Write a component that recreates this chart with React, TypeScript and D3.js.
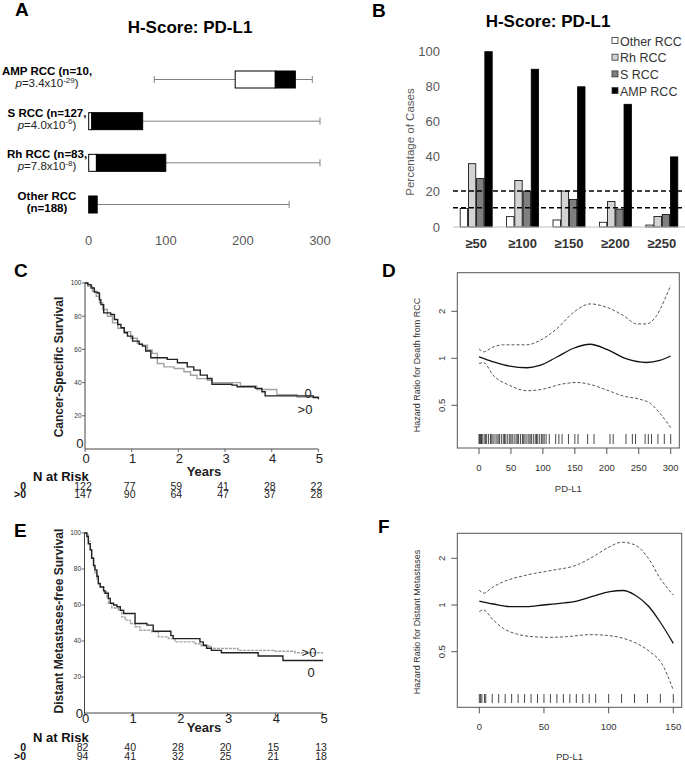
import React from "react";
import * as d3 from "d3";

const FONT = "'Liberation Sans', Arial, Helvetica, sans-serif";

// ---------- Panel A: box plots ----------
const aGroups = ["AMP RCC", "S RCC", "Rh RCC", "Other RCC"];
const aN = [10, 127, 83, 188];
const aPMant = ["3.4", "4.0", "7.8", ""];
const aPExp = ["-29", "-6", "-8", ""];
const aMin = [85, 0, 0, 0];
const aQ1 = [190, 0, 0, 0];
const aMedian = [242, 4, 10, 0];
const aQ3 = [268, 70, 100, 11];
const aMax = [290, 300, 300, 260];
const aTicks = [0, 100, 200, 300];

// ---------- Panel B: grouped bars ----------
const bCategories = ["≥50", "≥100", "≥150", "≥200", "≥250"];
const bSeries = ["Other RCC", "Rh RCC", "S RCC", "AMP RCC"];
const bOther = [10.6, 5.9, 4.0, 2.7, 1.1];
const bRh = [36.1, 26.5, 20.5, 14.5, 6.0];
const bS = [27.6, 20.5, 15.7, 10.2, 7.1];
const bAmp = [100, 90, 80, 70, 40];
const bTicks = [0, 20, 40, 60, 80, 100];
const bRefLines = [20.5, 11];
const bColors = ["#ffffff", "#d4d4d4", "#7f7f7f", "#000000"];

// ---------- Panel C: Kaplan-Meier cancer-specific survival ----------
const cTime0 = [0, 0.06, 0.13, 0.2, 0.27, 0.31, 0.34, 0.4, 0.55, 0.63, 0.7, 0.77, 0.84, 0.91, 1.02, 1.16, 1.23, 1.3, 1.41, 1.76, 1.98, 2.19, 2.33, 2.47, 2.62, 2.72, 3.15, 3.26, 3.65, 3.79, 3.86, 4.89, 5.0];
const cSurv0 = [100, 99, 97, 94.5, 94, 90, 87, 82, 81, 78, 75, 73, 70, 68, 65, 63, 62, 59, 55, 54, 52, 49.5, 47.5, 44.5, 42.5, 39, 38.5, 37.5, 36.5, 34.5, 32, 31, 30];
const cTime1 = [0, 0.06, 0.16, 0.24, 0.31, 0.38, 0.48, 0.59, 0.7, 0.84, 0.98, 1.12, 1.23, 1.34, 1.44, 1.55, 1.69, 1.91, 2.12, 2.26, 2.4, 2.62, 2.72, 3.33, 3.68, 4.11, 4.54, 5.0];
const cSurv1 = [100, 98, 95, 92, 88, 84, 80, 76, 72.7, 70.7, 66.7, 63.6, 62.6, 59.6, 57.6, 51.5, 49.5, 48.5, 46.5, 44.4, 42.4, 41.4, 40, 38, 35.8, 32.7, 31.3, 31.3];
const cRisk0 = [122, 77, 59, 41, 28, 22];
const cRisk1 = [147, 90, 64, 47, 37, 28];

// ---------- Panel E: Kaplan-Meier distant metastases-free survival ----------
const eTime0 = [0, 0.05, 0.08, 0.12, 0.15, 0.19, 0.22, 0.26, 0.29, 0.33, 0.4, 0.43, 0.5, 0.54, 0.61, 0.68, 0.75, 0.82, 1.06, 1.31, 1.44, 1.81, 1.86, 2.42, 2.49, 2.56, 2.66, 2.87, 3.64, 4.16, 5.0];
const eSurv0 = [100, 98, 94, 90.7, 86, 82, 79.5, 76, 72, 70, 68, 66.5, 63.7, 61, 60, 59, 57, 55.3, 49.7, 48.8, 45.4, 43, 41.3, 39.5, 37.6, 36, 34.8, 33.5, 31.7, 29.2, 29.2];
const eTime1 = [0, 0.05, 0.08, 0.12, 0.15, 0.19, 0.22, 0.26, 0.29, 0.33, 0.4, 0.47, 0.5, 0.57, 0.64, 0.71, 0.78, 0.85, 0.96, 1.06, 1.16, 1.41, 1.55, 1.76, 1.9, 2.32, 2.45, 2.66, 3.22, 3.99, 4.41, 5.0];
const eSurv1 = [100, 99, 95.3, 90.7, 86, 81.4, 77.7, 73.9, 71.5, 70.2, 67.4, 64.6, 60.9, 58.5, 58.1, 57.2, 53.4, 51.6, 49.7, 47.9, 46, 45.1, 42.3, 41.3, 39.5, 38.5, 37.2, 35.8, 34.8, 34.3, 33.5, 33.5];
const eRisk0 = [82, 40, 28, 20, 15, 13];
const eRisk1 = [94, 41, 32, 25, 21, 18];
const kmYTicks = [20, 40, 60, 80, 100];
const kmXTicks = [0, 1, 2, 3, 4, 5];

// ---------- Panel D: spline hazard ratio, death from RCC ----------
const dX = [0, 22, 48, 75, 95, 122, 148, 174, 200, 231, 262, 283, 300];
const dHR = [1.02, 0.95, 0.89, 0.87, 0.9, 1.02, 1.16, 1.23, 1.14, 0.99, 0.94, 0.97, 1.035];
const dUpX = [0, 7, 22, 38, 75, 95, 122, 148, 174, 200, 226, 247, 262, 278, 291, 300];
const dUp = [1.15, 1.1, 1.18, 1.22, 1.22, 1.3, 1.55, 1.97, 2.23, 2.12, 1.88, 1.66, 1.66, 1.88, 2.4, 2.94];
const dLoX = [0, 7, 22, 48, 75, 101, 127, 153, 174, 200, 226, 252, 268, 283, 300];
const dLo = [0.925, 0.94, 0.78, 0.67, 0.62, 0.635, 0.68, 0.7, 0.68, 0.626, 0.573, 0.546, 0.515, 0.445, 0.36];
const dRug = [0, 1, 2, 3, 4, 5, 8, 10, 12, 15, 18, 20, 22, 25, 28, 30, 32, 35, 38, 40, 42, 45, 48, 50, 52, 55, 58, 60, 62, 65, 68, 70, 72, 75, 78, 80, 82, 85, 88, 90, 92, 95, 98, 100, 102, 105, 110, 120, 125, 130, 140, 150, 155, 170, 180, 205, 210, 230, 240, 245, 260, 265, 270, 280, 290, 300];
const dXTicks = [0, 50, 100, 150, 200, 250, 300];

// ---------- Panel F: spline hazard ratio, distant metastases ----------
const fX = [0, 10.8, 23.7, 36.6, 49.5, 62.4, 75.3, 88.1, 101, 111.3, 120.3, 130.7, 139.7, 150];
const fHR = [1.06, 1.015, 0.976, 0.976, 1.0, 1.025, 1.06, 1.14, 1.22, 1.24, 1.16, 0.985, 0.78, 0.566];
const fUpX = [0, 3, 10.8, 18.5, 36.6, 54.6, 75.3, 88.1, 101, 110, 120.3, 130.7, 139.7, 150];
const fUp = [1.25, 1.19, 1.31, 1.41, 1.56, 1.665, 1.81, 2.05, 2.38, 2.54, 2.44, 2.0, 1.49, 1.16];
const fLoX = [0, 3, 10.8, 18.5, 28.9, 41.7, 54.6, 67.5, 85.6, 98.4, 111.3, 121.6, 131.9, 141, 150];
const fLo = [0.906, 0.93, 0.8, 0.707, 0.65, 0.625, 0.619, 0.625, 0.644, 0.637, 0.61, 0.566, 0.5, 0.42, 0.283];
const fRug = [0, 1, 2, 4, 5, 10, 15, 20, 25, 30, 35, 40, 45, 50, 55, 60, 65, 70, 75, 80, 85, 90, 100, 110, 120, 130, 140, 150];
const fXTicks = [0, 50, 100, 150];
const hrYTicks = [0.5, 1, 2];

function PanelA() {
  const x = d3.scaleLinear().domain([0, 300]).range([88.7, 320]);
  const y = d3.scalePoint().domain(aGroups).range([79.5, 204.5]);
  const h = 17;
  return (
    <g>
      <text x={15} y={16} fontSize={19} fontWeight="bold">A</text>
      <text x={190} y={33} fontSize={17} fontWeight="bold" textAnchor="middle">H-Score: PD-L1</text>
      {aGroups.map((g, i) => {
        const cy = y(g)!;
        const isOther = aPMant[i] === "";
        return (
          <g key={g}>
            {aMin[i] < aQ1[i] && (
              <>
                <line x1={x(aMin[i])} x2={x(aQ1[i])} y1={cy} y2={cy} stroke="#808080" strokeWidth={1} />
                <line x1={x(aMin[i])} x2={x(aMin[i])} y1={cy - 3.5} y2={cy + 3.5} stroke="#808080" strokeWidth={1} />
              </>
            )}
            <line x1={x(aQ3[i])} x2={x(aMax[i])} y1={cy} y2={cy} stroke="#808080" strokeWidth={1} />
            <line x1={x(aMax[i])} x2={x(aMax[i])} y1={cy - 3.5} y2={cy + 3.5} stroke="#808080" strokeWidth={1} />
            {aMedian[i] > aQ1[i] && (
              <rect x={x(aQ1[i])} y={cy - h / 2} width={x(aMedian[i]) - x(aQ1[i])} height={h} fill="#fff" stroke="#000" strokeWidth={1} />
            )}
            <rect x={x(aMedian[i])} y={cy - h / 2} width={x(aQ3[i]) - x(aMedian[i])} height={h} fill="#000" stroke="#000" strokeWidth={1} />
            <text x={47} y={cy - 4.5} fontSize={11.5} fontWeight="bold" textAnchor="middle">
              {isOther ? g : `${g} (n=${aN[i]},`}
            </text>
            {isOther ? (
              <text x={47} y={cy + 7.5} fontSize={11.5} fontWeight="bold" textAnchor="middle">{`(n=${aN[i]})`}</text>
            ) : (
              <text x={47} y={cy + 7.5} fontSize={11.5} textAnchor="middle" fill="#222">
                <tspan fontStyle="italic">p</tspan>
                <tspan>{`=${aPMant[i]}x10`}</tspan>
                <tspan fontSize={8} dy={-4.5}>{aPExp[i]}</tspan>
                <tspan dy={4.5}>)</tspan>
              </text>
            )}
          </g>
        );
      })}
      {aTicks.map((t) => (
        <text key={t} x={x(t)} y={245} fontSize={13} fill="#595959" textAnchor="middle">{t}</text>
      ))}
    </g>
  );
}

function PanelB() {
  const x0 = d3.scaleBand().domain(bCategories).range([453, 685]).paddingInner(0.31).paddingOuter(0.155);
  const x1 = d3.scaleBand().domain(bSeries).range([0, x0.bandwidth()]).paddingInner(0.1);
  const y = d3.scaleLinear().domain([0, 100]).range([227, 51.7]);
  const series = [bOther, bRh, bS, bAmp];
  return (
    <g>
      <text x={372} y={17} fontSize={19} fontWeight="bold">B</text>
      <text x={548} y={27} fontSize={17} fontWeight="bold" textAnchor="middle">H-Score: PD-L1</text>
      {bTicks.map((t) => (
        <text key={t} x={440} y={y(t) + 4.5} fontSize={13} fill="#595959" textAnchor="end">{t}</text>
      ))}
      <text transform="translate(414,142) rotate(-90)" fontSize={11.5} fill="#595959" textAnchor="middle">Percentage of Cases</text>
      {bCategories.map((c, ci) => (
        <g key={c}>
          {bSeries.map((s, si) => (
            <rect key={s} x={x0(c)! + x1(s)!} y={y(series[si][ci])} width={x1.bandwidth()} height={y(0) - y(series[si][ci])}
              fill={bColors[si]} stroke="#000" strokeWidth={0.8} />
          ))}
          <text x={x0(c)! + x0.bandwidth() / 2} y={248} fontSize={13} fontWeight="bold" fill="#333" textAnchor="middle">{c}</text>
        </g>
      ))}
      <line x1={453} x2={685} y1={y(0)} y2={y(0)} stroke="#bfbfbf" strokeWidth={1} />
      {bRefLines.map((v) => (
        <line key={v} x1={453} x2={685} y1={y(v)} y2={y(v)} stroke="#000" strokeWidth={1.6} strokeDasharray="5,3" />
      ))}
      {bSeries.map((s, si) => {
        const cy = 41 + si * 16.7;
        return (
          <g key={s}>
            <rect x={612} y={cy - 3.5} width={6} height={6} fill={bColors[si]} stroke="#333" strokeWidth={0.8} />
            <text x={620} y={cy + 4.5} fontSize={12.5} fill="#333">{s}</text>
          </g>
        );
      })}
    </g>
  );
}

type KMProps = {
  letter: string; letterY: number; x0: number; x1: number; yTop: number; yBot: number;
  yLabel: string; yLabelY: number; zeroLabelY: number; xLabelY: number; yearsY: number; nRiskY: number;
  row0Y: number; row1Y: number; t0: number[]; s0: number[]; t1: number[]; s1: number[];
  r0: number[]; r1: number[]; lab0: [number, number]; lab1: [number, number]; grayDash?: string;
};

function KMPanel(p: KMProps) {
  const x = d3.scaleLinear().domain([0, 5]).range([p.x0, p.x1]);
  const y = d3.scaleLinear().domain([0, 100]).range([p.yBot, p.yTop]);
  const line = d3.line<[number, number]>().x((d) => x(d[0])).y((d) => y(d[1])).curve(d3.curveStepAfter);
  const pts0 = p.t0.map((t, i) => [t, p.s0[i]] as [number, number]);
  const pts1 = p.t1.map((t, i) => [t, p.s1[i]] as [number, number]);
  return (
    <g>
      <text x={14} y={p.letterY} fontSize={19} fontWeight="bold">{p.letter}</text>
      <line x1={p.x0} x2={p.x0} y1={y(100) - 1} y2={y(0)} stroke="#444" strokeWidth={1} />
      <line x1={p.x0} x2={p.x1} y1={y(0)} y2={y(0)} stroke="#444" strokeWidth={1} />
      {kmYTicks.map((t) => (
        <g key={t}>
          <line x1={p.x0 - 3} x2={p.x0} y1={y(t)} y2={y(t)} stroke="#444" strokeWidth={0.8} />
          <text x={p.x0 - 3.5} y={y(t) + 2.3} fontSize={6.5} fill="#333" textAnchor="end">{t}</text>
        </g>
      ))}
      <text x={p.x0 - 1.5} y={p.zeroLabelY} fontSize={13} fill="#222" textAnchor="end">0</text>
      {kmXTicks.map((t) => (
        <g key={t}>
          <line x1={x(t)} x2={x(t)} y1={y(0)} y2={y(0) + 3} stroke="#444" strokeWidth={0.8} />
          <text x={x(t) + 1} y={p.xLabelY} fontSize={13} fill="#222" textAnchor="middle">{t}</text>
        </g>
      ))}
      <path d={line(pts1)!} fill="none" stroke="#a3a3a3" strokeWidth={1.4} strokeDasharray={p.grayDash} />
      <path d={line(pts0)!} fill="none" stroke="#222" strokeWidth={1.4} />
      <text x={p.lab0[0]} y={p.lab0[1]} fontSize={13} fill="#222" textAnchor="middle">0</text>
      <text x={p.lab1[0]} y={p.lab1[1]} fontSize={13} fill="#222" textAnchor="middle">&gt;0</text>
      <text transform={`translate(63,${p.yLabelY}) rotate(-90)`} fontSize={12} fontWeight="bold" fill="#222" textAnchor="middle">{p.yLabel}</text>
      <text x={204} y={p.yearsY} fontSize={13} fontWeight="bold" fill="#222" textAnchor="middle">Years</text>
      <text x={33} y={p.nRiskY} fontSize={13} fontWeight="bold" fill="#111">N at Risk</text>
      <text x={26} y={p.row0Y} fontSize={10.5} fontWeight="bold" fill="#111" textAnchor="end">0</text>
      <text x={26} y={p.row1Y} fontSize={10.5} fontWeight="bold" fill="#111" textAnchor="end">&gt;0</text>
      {kmXTicks.map((t, i) => (
        <g key={t}>
          <text x={x(t) - 2} y={p.row0Y} fontSize={10.5} fill="#222" textAnchor="middle">{p.r0[i]}</text>
          <text x={x(t) - 2} y={p.row1Y} fontSize={10.5} fill="#222" textAnchor="middle">{p.r1[i]}</text>
        </g>
      ))}
    </g>
  );
}

type HRProps = {
  letter: string; letterX: number; letterY: number;
  fx0: number; fx1: number; fy0: number; fy1: number;
  xDomain: [number, number]; xRange: [number, number]; y1: number; pxPerDouble: number;
  xTicks: number[]; yLabel: string; yLabelY: number; tickLabelY: number; pdY: number;
  rugY0: number; rugY1: number; rug: number[];
  mx: number[]; my: number[]; ux: number[]; uy: number[]; lx: number[]; ly: number[];
};

function HRPanel(p: HRProps) {
  const x = d3.scaleLinear().domain(p.xDomain).range(p.xRange);
  const hi = Math.pow(2, (p.y1 - p.fy0) / p.pxPerDouble);
  const lo = Math.pow(2, (p.y1 - p.fy1) / p.pxPerDouble);
  const y = d3.scaleLog().base(2).domain([lo, hi]).range([p.fy1, p.fy0]);
  const line = d3.line<[number, number]>().x((d) => x(d[0])).y((d) => y(d[1])).curve(d3.curveMonotoneX);
  const zip = (a: number[], b: number[]) => a.map((v, i) => [v, b[i]] as [number, number]);
  return (
    <g>
      <text x={p.letterX} y={p.letterY} fontSize={19} fontWeight="bold">{p.letter}</text>
      <rect x={p.fx0} y={p.fy0} width={p.fx1 - p.fx0} height={p.fy1 - p.fy0} fill="none" stroke="#555" strokeWidth={1} />
      {hrYTicks.map((t) => (
        <g key={t}>
          <line x1={p.fx0 - 6} x2={p.fx0} y1={y(t)} y2={y(t)} stroke="#555" strokeWidth={1} />
          <text transform={`translate(${p.fx0 - 12},${y(t)}) rotate(-90)`} fontSize={9.5} fill="#333" textAnchor="middle">{t}</text>
        </g>
      ))}
      {p.xTicks.map((t) => (
        <g key={t}>
          <line x1={x(t)} x2={x(t)} y1={p.fy1} y2={p.fy1 + 6} stroke="#555" strokeWidth={1} />
          <text x={x(t)} y={p.tickLabelY} fontSize={9.5} fill="#333" textAnchor="middle">{t}</text>
        </g>
      ))}
      <text x={(p.fx0 + p.fx1) / 2} y={p.pdY} fontSize={9.5} fill="#333" textAnchor="middle">PD-L1</text>
      <text transform={`translate(${p.fx0 - 37},${p.yLabelY}) rotate(-90)`} fontSize={9} fill="#333" textAnchor="middle">{p.yLabel}</text>
      <path d={line(zip(p.ux, p.uy))!} fill="none" stroke="#555" strokeWidth={1} strokeDasharray="3,2" />
      <path d={line(zip(p.lx, p.ly))!} fill="none" stroke="#555" strokeWidth={1} strokeDasharray="3,2" />
      <path d={line(zip(p.mx, p.my))!} fill="none" stroke="#111" strokeWidth={1.3} />
      {p.rug.map((v, i) => (
        <line key={i} x1={x(v)} x2={x(v)} y1={p.rugY0} y2={p.rugY1} stroke="#333" strokeWidth={0.9} />
      ))}
    </g>
  );
}

export default function App() {
  return (
    <svg width={685} height={763} style={{ position: "absolute", left: 0, top: 0, background: "#fff" }} fontFamily={FONT}>
      <rect x={0} y={0} width={685} height={763} fill="#fff" />
      <PanelA />
      <PanelB />
      <KMPanel letter="C" letterY={277} x0={85} x1={318.4} yTop={283} yBot={449}
        yLabel="Cancer-Specific Survival" yLabelY={367} zeroLabelY={448} xLabelY={463}
        yearsY={476} nRiskY={481} row0Y={490} row1Y={498}
        t0={cTime0} s0={cSurv0} t1={cTime1} s1={cSurv1} r0={cRisk0} r1={cRisk1}
        lab0={[308, 398]} lab1={[305, 414]} />
      <KMPanel letter="E" letterY={537} x0={84.5} x1={323} yTop={533} yBot={713}
        yLabel="Distant Metastases-free Survival" yLabelY={621} zeroLabelY={718} xLabelY={723}
        yearsY={732} nRiskY={742} row0Y={751} row1Y={760}
        t0={eTime0} s0={eSurv0} t1={eTime1} s1={eSurv1} r0={eRisk0} r1={eRisk1}
        lab0={[311, 677]} lab1={[309, 657]} grayDash="3,1" />
      <HRPanel letter="D" letterX={382} letterY={277} fx0={457.3} fx1={679.3} fy0={272.7} fy1={448}
        xDomain={[0, 300]} xRange={[479, 670.7]} y1={358.3} pxPerDouble={47}
        xTicks={dXTicks} yLabel="Hazard Ratio for Death from RCC" yLabelY={365} tickLabelY={471} pdY={492}
        rugY0={434} rugY1={444} rug={dRug} mx={dX} my={dHR} ux={dUpX} uy={dUp} lx={dLoX} ly={dLo} />
      <HRPanel letter="F" letterX={378} letterY={533} fx0={457.3} fx1={681.7} fy0={533.3} fy1={707.3}
        xDomain={[0, 150]} xRange={[479.3, 673.3]} y1={605} pxPerDouble={46.7}
        xTicks={fXTicks} yLabel="Hazard Ratio for Distant Metastases" yLabelY={622} tickLabelY={730} pdY={760}
        rugY0={694} rugY1={703} rug={fRug} mx={fX} my={fHR} ux={fUpX} uy={fUp} lx={fLoX} ly={fLo} />
    </svg>
  );
}
